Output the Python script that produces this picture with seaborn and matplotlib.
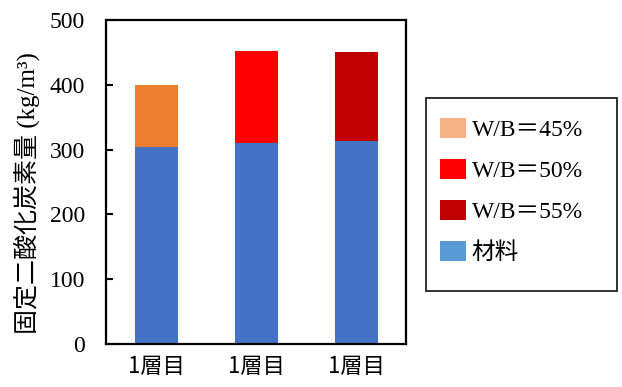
import matplotlib
matplotlib.use("Agg")
import matplotlib.pyplot as plt
from matplotlib.patches import Patch, Rectangle
import seaborn as sns
import pandas as pd

# Data
groups = ["W/B＝45%", "W/B＝50%", "W/B＝55%"]
tick_labels = ["1層目", "1層目", "1層目"]
material = [304, 310, 314]
totals = [400, 452, 451]

bar_colors = ["#ED7D31", "#FF0000", "#C00000"]
base_color = "#4472C4"
legend_colors = ["#F4B183", "#FF0000", "#C00000", "#5B9BD5"]
legend_labels = groups + ["材料"]

sns.set_theme(style="white")
plt.rcParams["font.family"] = ["Liberation Serif", "Noto Sans CJK JP"]
plt.rcParams.update({"text.color": "black", "axes.labelcolor": "black",
                     "xtick.color": "black", "ytick.color": "black"})

df = pd.DataFrame({"group": groups, "total": totals, "material": material})

fig = plt.figure(figsize=(6.22, 3.87), dpi=100)
ax = fig.add_axes([106 / 622, 1 - 344 / 387, 300 / 622, 324 / 387])

# Stacked bars: total height first, material portion drawn on top
sns.barplot(data=df, x="group", y="total", hue="group", palette=bar_colors,
            width=0.43, saturation=1, legend=False, linewidth=0, ax=ax)
sns.barplot(data=df, x="group", y="material", color=base_color,
            width=0.43, saturation=1, linewidth=0, ax=ax)

ax.set_ylim(0, 500)
ax.set_xlim(-0.5, 2.5)
ax.set_yticks([0, 100, 200, 300, 400, 500])
ax.set_xticks(range(3))
ax.set_xticklabels(tick_labels, fontfamily=["Noto Sans CJK JP"], fontsize=16)
ax.tick_params(axis="y", direction="in", length=5, width=1.5, labelsize=17,
               pad=15, left=True)
ax.tick_params(axis="x", length=0, pad=8)
ax.set_xlabel("")
ax.set_ylabel("固定二酸化炭素量 (kg/m³)", fontsize=18)
ax.yaxis.set_label_coords(-(106 - 40) / 300, (344 - 193) / 324)
for s in ax.spines.values():
    s.set_visible(True)
    s.set_color("black")
    s.set_linewidth(1.6)

# Legend box
fig.patches.append(Rectangle((426 / 622, 1 - 291 / 387), 191 / 622, 193 / 387,
                             transform=fig.transFigure, facecolor="white",
                             edgecolor="#222222", linewidth=1.3))
handles = [Patch(facecolor=c, edgecolor="none") for c in legend_colors]
fig.legend(handles, legend_labels, loc="upper left",
           bbox_to_anchor=(440 / 622, 1 - 118 / 387), frameon=False,
           fontsize=17, borderpad=0, borderaxespad=0, handlelength=1.1,
           handleheight=0.95, handletextpad=0.25, labelspacing=0.75)

fig.savefig("out.png", dpi=100)
